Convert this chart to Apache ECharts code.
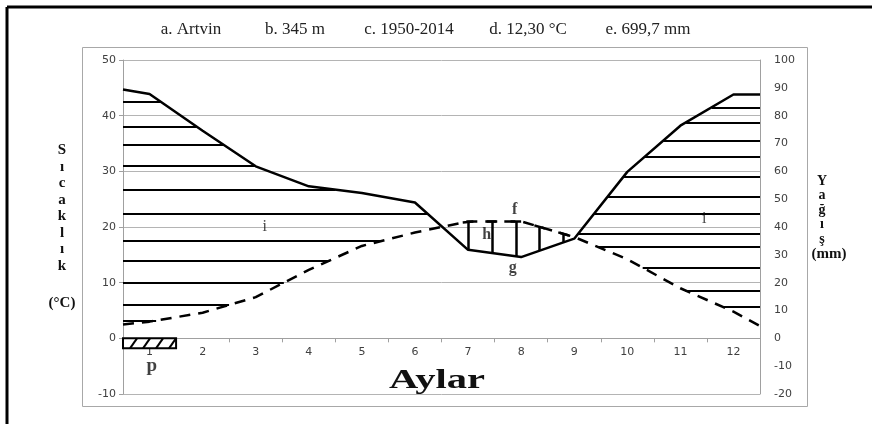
<!DOCTYPE html>
<html>
<head>
<meta charset="utf-8">
<script src="https://cdn.jsdelivr.net/npm/echarts@6/dist/echarts.min.js"></script>
<style>
  html, body { margin: 0; padding: 0; background: #ffffff; }
  #chart { width: 872px; height: 424px; }
</style>
</head>
<body>
<div id="chart"></div>
<script>
// Walter–Lieth climate diagram, Artvin station (1950-2014)
const months = ['1', '2', '3', '4', '5', '6', '7', '8', '9', '10', '11', '12'];
const temperatureC = [3.0, 4.6, 7.4, 12.3, 16.6, 19.0, 21.0, 21.0, 18.2, 14.2, 9.0, 4.8];
const precipitationMm = [87.8, 74.6, 61.8, 54.6, 52.2, 48.8, 31.8, 29.2, 35.8, 59.8, 76.4, 87.6];
// where the curves meet the left and right edges of the plot
const temperatureEdgesC = [2.5, 2.2];
const precipitationEdgesMm = [89.4, 87.6];
// months with frost risk
const frostMonths = [1];
// axis ranges [min, max, step]: temperature (left) and precipitation (right)
const temperatureAxis = [-10, 50, 10];
const precipitationAxis = [-20, 100, 10];
const headerParts = ['a. Artvin', 'b. 345 m', 'c. 1950-2014', 'd. 12,30 °C', 'e. 699,7 mm'];

// precipitation scale is twice the temperature scale (10 °C = 20 mm)
const MM_PER_DEG = 2;

// curve vertices on a continuous month scale 0..12 (month centres at i+0.5)
const xs = [0].concat(months.map((_, i) => i + 0.5), [months.length]);
const tPts = [temperatureEdgesC[0]].concat(temperatureC, [temperatureEdgesC[1]]);
const pPts = [precipitationEdgesMm[0]].concat(precipitationMm, [precipitationEdgesMm[1]]);

function interp(x, ys) {
  if (x <= xs[0]) return ys[0];
  for (let i = 1; i < xs.length; i++) {
    if (x <= xs[i]) {
      const f = (x - xs[i - 1]) / (xs[i] - xs[i - 1]);
      return ys[i - 1] + f * (ys[i] - ys[i - 1]);
    }
  }
  return ys[ys.length - 1];
}
const tempAt = x => interp(x, tPts);
const precAt = x => interp(x, pPts) / MM_PER_DEG;   // in °C units

// humid period: horizontal hatching from a plot edge to where the band closes
const leftHatchLevels = [42.5, 38.0, 34.8, 31.0, 26.7, 22.4, 17.5, 14.0, 10.0, 6.0, 3.2];
const rightHatchLevels = [41.5, 38.8, 35.5, 32.6, 29.0, 25.4, 22.4, 18.8, 16.4, 12.7, 8.6, 5.7];

function hatchFrom(start, dir, level) {
  const inside = x => level >= tempAt(x) && level <= precAt(x);
  if (!inside(start)) return null;
  const step = 0.002 * dir;
  let x = start;
  while (x + step >= 0 && x + step <= 12 && inside(x + step)) x += step;
  return { coords: [[start, level], [x, level]] };
}
const humidLines = [];
leftHatchLevels.forEach(l => { const s = hatchFrom(0, 1, l); if (s) humidLines.push(s); });
rightHatchLevels.forEach(l => { const s = hatchFrom(12, -1, l); if (s) humidLines.push(s); });

// dry period: vertical strokes where temperature rises above precipitation
const dryLines = [];
for (let x = 6.5; x < 8.6; x += 0.45) {
  const t = tempAt(x), p = precAt(x);
  if (t > p + 0.3) {
    dryLines.push({ coords: [[x, p], [x, t]] });
    dryLines.push({ coords: [[x - 0.1, tempAt(x - 0.1)], [x + 0.1, tempAt(x + 0.1)]] });
  }
}

const serif = 'Liberation Serif';
const sans = 'DejaVu Sans';
const gridGrey = '#b4b4b4';
const axisGrey = '#a0a0a0';
const labelGrey = '#404040';

const GRID = { left: 123, right: 112, top: 60, bottom: 30 };
const plotHeight = 424 - GRID.top - GRID.bottom;
// month axis sits on the 0 °C line
const zeroOffset = -(0 - temperatureAxis[0]) / (temperatureAxis[1] - temperatureAxis[0]) * plotHeight;

const chart = echarts.init(document.getElementById('chart'), null, { renderer: 'canvas' });

const headerCentres = [191, 295, 409, 528, 648];

chart.setOption({
  backgroundColor: '#ffffff',
  animation: false,
  grid: GRID,
  xAxis: [
    {
      type: 'category',
      data: months,
      boundaryGap: true,
      position: 'bottom',
      offset: zeroOffset,
      axisLine: { onZero: false, lineStyle: { color: axisGrey, width: 1 } },
      axisTick: { show: true, interval: 0, length: 4, lineStyle: { color: axisGrey } },
      axisLabel: { color: labelGrey, fontFamily: sans, fontSize: 11, margin: 8 },
      splitLine: { show: false }
    },
    { type: 'value', min: 0, max: months.length, show: false }
  ],
  yAxis: [
    {
      type: 'value',
      min: temperatureAxis[0], max: temperatureAxis[1], interval: temperatureAxis[2],
      axisLine: { show: true, lineStyle: { color: axisGrey } },
      axisTick: { show: true, length: 4, lineStyle: { color: axisGrey } },
      axisLabel: { color: labelGrey, fontFamily: sans, fontSize: 11, margin: 7 },
      splitLine: { show: true, lineStyle: { color: gridGrey, width: 1 } }
    },
    {
      type: 'value',
      position: 'right',
      min: precipitationAxis[0], max: precipitationAxis[1], interval: precipitationAxis[2],
      axisLine: { show: true, lineStyle: { color: axisGrey } },
      axisTick: { show: false },
      axisLabel: { color: labelGrey, fontFamily: sans, fontSize: 11, margin: 14 },
      splitLine: { show: false }
    }
  ],
  series: [
    {
      name: 'humid',
      type: 'lines',
      coordinateSystem: 'cartesian2d',
      xAxisIndex: 1, yAxisIndex: 0,
      polyline: false,
      silent: true,
      lineStyle: { color: '#000', width: 2, opacity: 1 },
      data: humidLines,
      z: 3
    },
    {
      name: 'dry',
      type: 'lines',
      coordinateSystem: 'cartesian2d',
      xAxisIndex: 1, yAxisIndex: 0,
      polyline: false,
      silent: true,
      lineStyle: { color: '#000', width: 2.5, opacity: 1 },
      data: dryLines,
      z: 3
    },
    {
      name: 'Yağış',
      type: 'line',
      xAxisIndex: 1, yAxisIndex: 1,
      data: xs.map((x, i) => [x, pPts[i]]),
      symbol: 'none',
      lineStyle: { color: '#000', width: 2.5 },
      z: 4
    },
    {
      name: 'Sıcaklık',
      type: 'line',
      xAxisIndex: 1, yAxisIndex: 0,
      data: xs.map((x, i) => [x, tPts[i]]),
      symbol: 'none',
      lineStyle: { color: '#000', width: 2.5, type: [11, 8] },
      z: 4
    },
    {
      name: 'frost',
      type: 'custom',
      xAxisIndex: 1, yAxisIndex: 0,
      data: frostMonths.map(m => [m - 1, m, 0, -1.8]),
      renderItem: function (params, api) {
        const a = api.coord([api.value(0), api.value(2)]);
        const b = api.coord([api.value(1), api.value(3)]);
        const x = a[0], y = a[1], w = b[0] - a[0], h = b[1] - a[1];
        const children = [{
          type: 'rect',
          shape: { x: x, y: y, width: w, height: h },
          style: { fill: '#fff', stroke: '#000', lineWidth: 2 }
        }];
        const slant = 7;
        for (let sx = x + 7; sx + slant < x + w; sx += 13) {
          children.push({
            type: 'line',
            shape: { x1: sx, y1: y + h, x2: sx + slant, y2: y },
            style: { stroke: '#000', lineWidth: 2 }
          });
        }
        return { type: 'group', children: children };
      },
      z: 5
    },
    {
      name: 'notes',
      type: 'scatter',
      xAxisIndex: 1, yAxisIndex: 0,
      symbolSize: 0,
      silent: true,
      label: {
        show: true, position: 'inside',
        formatter: p => p.data.name,
        color: '#111', fontFamily: serif, fontSize: 16
      },
      data: [
        { name: 'f', value: [7.38, 23.0], label: { fontWeight: 'bold' } },
        { name: 'g', value: [7.34, 12.7], label: { fontWeight: 'bold' } },
        { name: 'h', value: [6.85, 18.5], label: { fontWeight: 'bold' } },
        { name: 'i', value: [2.67, 20.0] },
        { name: 'i', value: [10.95, 21.4] },
        { name: 'p', value: [0.54, -5.0], label: { fontSize: 19, fontWeight: 'bold' } }
      ],
      z: 6
    }
  ],
  graphic: [
    { type: 'rect', shape: { x: 82.5, y: 47.5, width: 725, height: 359 },
      style: { fill: 'none', stroke: '#a8a8a8', lineWidth: 1 }, z: -1, silent: true },
    { type: 'line', shape: { x1: 7, y1: 7, x2: 872, y2: 7 },
      style: { stroke: '#000', lineWidth: 3 }, silent: true },
    { type: 'line', shape: { x1: 7, y1: 7, x2: 7, y2: 424 },
      style: { stroke: '#000', lineWidth: 3 }, silent: true }
  ].concat(headerParts.map((t, i) => ({
    type: 'text', x: headerCentres[i], y: 30,
    style: { text: t, font: '17px "' + serif + '"', fill: '#222',
             textAlign: 'center', textVerticalAlign: 'middle' }
  }))).concat([
    { type: 'text', x: 437, y: 381, scaleX: 1.5,
      style: { text: 'Aylar', font: 'bold 27px "' + serif + '"', fill: '#111',
               textAlign: 'center', textVerticalAlign: 'middle' } },
    { type: 'text', x: 62, y: 142,
      style: { text: 'S\nı\nc\na\nk\nl\nı\nk', font: 'bold 15px "' + serif + '"', fill: '#111',
               textAlign: 'center', lineHeight: 16.5 } },
    { type: 'text', x: 62, y: 296,
      style: { text: '(°C)', font: 'bold 15px "' + serif + '"', fill: '#111', textAlign: 'center' } },
    { type: 'text', x: 822, y: 174,
      style: { text: 'Y\na\nğ\nı\nş', font: 'bold 14px "' + serif + '"', fill: '#111',
               textAlign: 'center', lineHeight: 14.5 } },
    { type: 'text', x: 829, y: 247,
      style: { text: '(mm)', font: 'bold 15px "' + serif + '"', fill: '#111', textAlign: 'center' } }
  ])
});
</script>
</body>
</html>
